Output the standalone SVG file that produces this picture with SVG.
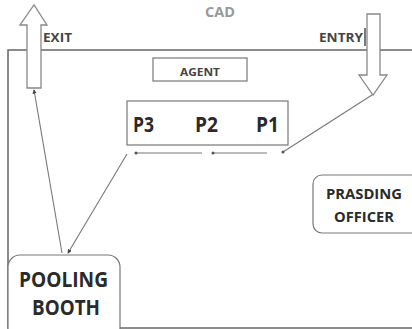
<svg xmlns="http://www.w3.org/2000/svg" width="412" height="329" viewBox="0 0 412 329">
<defs>
<style>
.frame{fill:none;stroke:#666;stroke-width:1.5}
.box{fill:#fff;stroke:#777;stroke-width:1.2}
.arrow{fill:#fff;stroke:#888;stroke-width:1.3}
.conn{fill:none;stroke:#777;stroke-width:1.1}
.dot{fill:#555}
.t{font-family:"Open Sans","Liberation Sans",sans-serif;font-weight:700;fill:#2a2a2a}
.lbl{font-family:"Open Sans","Liberation Sans",sans-serif;font-weight:700;fill:#444}
</style>
<marker id="tip" viewBox="0 0 6 6" refX="5" refY="3" markerWidth="4" markerHeight="4" orient="auto"><path d="M0,0 L6,3 L0,6 Z" fill="#444"/></marker>
</defs>
<rect width="412" height="329" fill="#fff"/>
<g id="frame">
<path class="frame" d="M414,50 H8 V328 H414"/>
</g>
<text x="205" y="17" class="lbl" style="fill:#999" font-size="15" textLength="30" lengthAdjust="spacingAndGlyphs">CAD</text>
<g id="exit">
<polygon class="arrow" points="27,88 27,25 20,25 34,5 47,25 41,25 41,88"/>
<text x="43" y="42" class="lbl" font-size="13" textLength="29" lengthAdjust="spacingAndGlyphs">EXIT</text>
</g>
<g id="entry">
<polygon class="arrow" points="367,14 380,14 380,75 387,75 373,95 359,75 367,75"/>
<text x="319" y="42" class="lbl" font-size="13" textLength="44" lengthAdjust="spacingAndGlyphs">ENTRY</text>
<line x1="365" y1="28" x2="365" y2="46" stroke="#333" stroke-width="1.3"/>
</g>
<g id="agent">
<rect class="box" x="153" y="58" width="94" height="23"/>
<text x="180" y="76" class="lbl" font-size="10" textLength="40" lengthAdjust="spacingAndGlyphs">AGENT</text>
</g>
<g id="queue">
<rect class="box" x="127" y="101" width="161" height="44"/>
<text x="133" y="132" class="t" font-size="21" textLength="21" lengthAdjust="spacingAndGlyphs">P3</text>
<text x="195" y="132" class="t" font-size="21" textLength="23" lengthAdjust="spacingAndGlyphs">P2</text>
<text x="256" y="132" class="t" font-size="21" textLength="23" lengthAdjust="spacingAndGlyphs">P1</text>
</g>
<g id="officer">
<rect class="box" x="313" y="175" width="110" height="58" rx="9"/>
<text x="326" y="199" class="t" font-size="15" textLength="76" lengthAdjust="spacingAndGlyphs">PRASDING</text>
<text x="334" y="222" class="t" font-size="15" textLength="60" lengthAdjust="spacingAndGlyphs">OFFICER</text>
</g>
<g id="booth">
<rect class="box" x="8" y="255" width="112" height="85" rx="12"/>
<text x="19" y="287" class="t" font-size="22" textLength="89" lengthAdjust="spacingAndGlyphs">POOLING</text>
<text x="32" y="315" class="t" font-size="22" textLength="68" lengthAdjust="spacingAndGlyphs">BOOTH</text>
</g>
<g id="connectors">
<line class="conn" x1="62" y1="253" x2="34" y2="90" marker-end="url(#tip)"/>
<line class="conn" x1="127" y1="154" x2="68" y2="253" marker-end="url(#tip)"/>
<line class="conn" x1="283" y1="152" x2="372" y2="95"/>
<line class="conn" x1="136" y1="153" x2="202" y2="153"/>
<line class="conn" x1="213" y1="153" x2="267" y2="153"/>
<circle class="dot" cx="136" cy="153" r="1.5"/>
<circle class="dot" cx="213" cy="153" r="1.5"/>
<circle class="dot" cx="283" cy="152" r="1.5"/>
</g>
</svg>
